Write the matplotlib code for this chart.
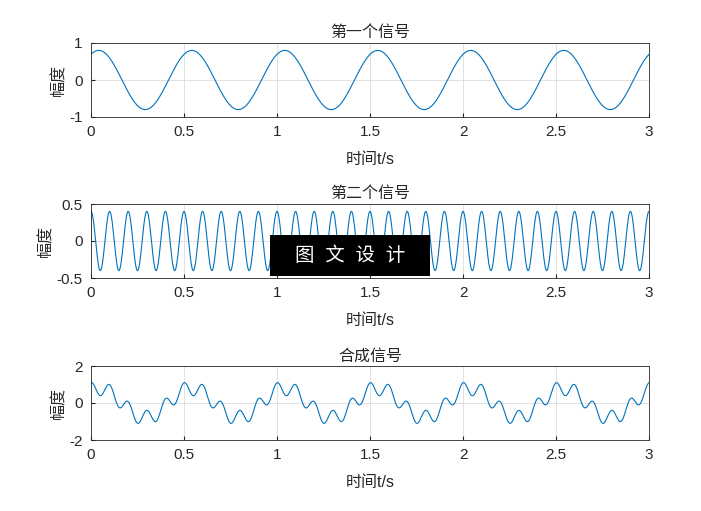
import numpy as np
import matplotlib
matplotlib.use('Agg')
import matplotlib.pyplot as plt
from matplotlib.patches import Rectangle

plt.rcParams['font.family'] = ['Liberation Sans', 'Noto Sans CJK SC', 'DejaVu Sans']
plt.rcParams['axes.unicode_minus'] = False

# signal parameters
amp1, freq1, phase1 = 0.8, 2.0, np.pi / 3
amp2, freq2, phase2 = 0.4, 10.0, np.pi / 2
t = np.linspace(0, 3, 3001)
s1 = amp1 * np.sin(2 * np.pi * freq1 * t + phase1)
s2 = amp2 * np.sin(2 * np.pi * freq2 * t + phase2)
s3 = s1 + s2

titles = ['第一个信号', '第二个信号', '合成信号']
ylims = [(-1, 1), (-0.5, 0.5), (-2, 2)]
yticks = [[-1, 0, 1], [-0.5, 0, 0.5], [-2, 0, 2]]
ytick_labels = [['-1', '0', '1'], ['-0.5', '0', '0.5'], ['-2', '0', '2']]
xticks = [0, 0.5, 1, 1.5, 2, 2.5, 3]
xtick_labels = ['0', '0.5', '1', '1.5', '2', '2.5', '3']

W, H = 701, 511
fig = plt.figure(figsize=(W / 100, H / 100), dpi=100)
tops = [43, 204, 366]
for i, (sig, top) in enumerate(zip([s1, s2, s3], tops)):
    ax = fig.add_axes([91 / W, 1 - (top + 74) / H, 558 / W, 74 / H])
    ax.plot(t, sig, color='#0072BD', lw=0.8)
    ax.set_xlim(0, 3)
    ax.set_ylim(*ylims[i])
    ax.set_xticks(xticks, xtick_labels)
    ax.set_yticks(yticks[i], ytick_labels[i])
    ax.grid(True, color='#dcdcdc', lw=0.6)
    ax.tick_params(labelsize=11, direction='in', length=3, colors='#262626', pad=6)
    for sp in ax.spines.values():
        sp.set_color('#262626')
        sp.set_linewidth(0.6)
    ax.set_title(titles[i], fontsize=11.5, color='#262626', pad=4)
    ax.set_xlabel('时间t/s', fontsize=11.5, color='#262626', labelpad=9)
    ax.set_ylabel('幅度', fontsize=11.5, color='#262626', labelpad=2)

# watermark box
fig.patches.append(Rectangle((270 / W, 1 - 276 / H), 160 / W, 41 / H,
                             transform=fig.transFigure, fc='black', ec='none', zorder=5))
fig.text(350 / W, 1 - 256 / H, '图  文  设  计', color='white', fontsize=14,
         ha='center', va='center', zorder=6)

fig.savefig('out.png', dpi=100, facecolor='white')
